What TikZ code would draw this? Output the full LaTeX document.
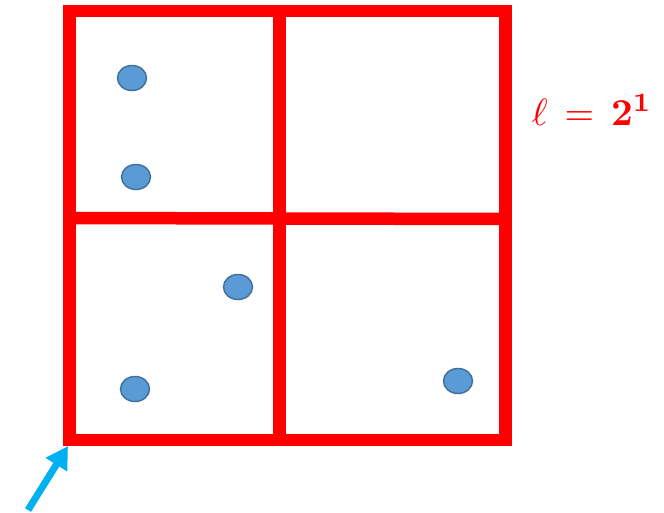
\documentclass[tikz,border=0pt]{standalone}
\usepackage{amsmath}
\usetikzlibrary{arrows.meta,shapes.geometric}
\definecolor{gridred}{RGB}{255,0,0}
\definecolor{dotfill}{RGB}{91,155,213}
\definecolor{dotline}{RGB}{65,113,156}
\definecolor{arrowcyan}{RGB}{0,176,240}
\begin{document}
\begin{tikzpicture}[x=1pt,y=-1pt,
  gridline/.style={draw=gridred,line width=12.5pt},
  pointdot/.style={ellipse,draw=dotline,fill=dotfill,line width=1.5pt,minimum width=29pt,minimum height=25pt,inner sep=0pt},
  pointer/.style={draw=arrowcyan,line width=7pt,-{Triangle[width=24pt,length=22pt]}}]
\useasboundingbox (0,0) rectangle (664,512);
\coordinate (tl) at (69.5,11);
\coordinate (tr) at (505.7,11);
\coordinate (bl) at (69.5,440);
\coordinate (br) at (505.7,440);
\draw[gridline,line join=miter,line cap=rect] (tl) -- (tr) -- (br) -- (bl) -- cycle;
\draw[gridline] (279.5,11) -- (279.5,440);
\draw[gridline] (69.5,218) -- (505.7,219);
\node[pointdot] (p1) at (132,78) {};
\node[pointdot] (p2) at (136,177) {};
\node[pointdot] (p3) at (238,287) {};
\node[pointdot] (p4) at (135,389) {};
\node[pointdot] (p5) at (458,381) {};
\node[text=gridred,inner sep=0pt] (lab) at (592,110) {\scalebox{3.8}{$\ell\,=\,\mathbf{2}^{\mathbf{1}}$}};
\coordinate (tail) at (28,510);
\coordinate (tip) at (68,446);
\draw[pointer] (tail) -- (tip);
\end{tikzpicture}
\end{document}
